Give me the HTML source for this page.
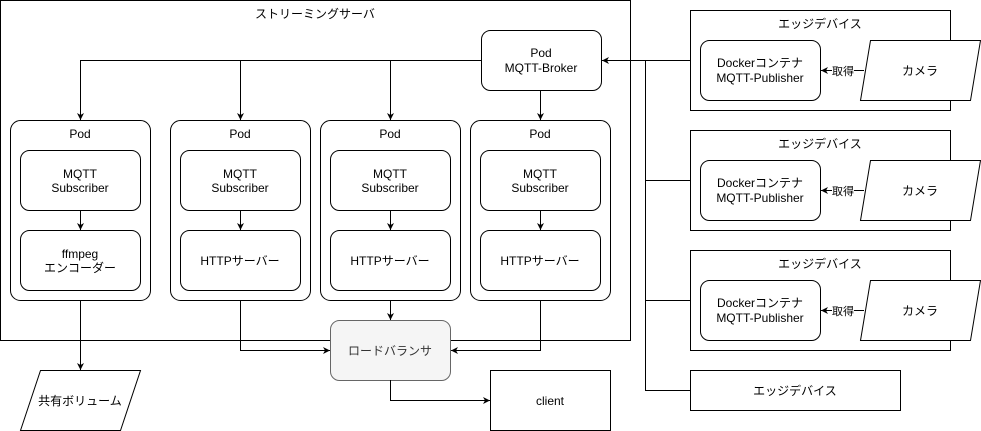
<!DOCTYPE html>
<html><head><meta charset="utf-8"><style>
html,body{margin:0;padding:0;background:#fff;}
svg{display:block;}
text{font-family:"Liberation Sans","Noto Sans CJK JP",sans-serif;font-size:12px;fill:#000;}
</style></head><body>
<svg width="981" height="431" viewBox="0 0 981 431" xmlns="http://www.w3.org/2000/svg">
<defs>
<marker id="a" markerWidth="8" markerHeight="8" refX="7" refY="4" orient="auto" markerUnits="userSpaceOnUse">
<path d="M0,0.5 L7,4 L0,7.5 L2,4 Z" fill="#000"/>
</marker>
</defs>
<g fill="none" stroke="#000" stroke-width="1">
<!-- server -->
<rect x="0.5" y="0.5" width="630" height="340"/>
<rect x="481.5" y="30.5" width="120" height="60" rx="9" fill="#fff"/>
<!-- pods -->
<rect x="10.5" y="120.5" width="140" height="180" rx="10"/>
<rect x="170.5" y="120.5" width="140" height="180" rx="10"/>
<rect x="320.5" y="120.5" width="140" height="180" rx="10"/>
<rect x="470.5" y="120.5" width="140" height="180" rx="10"/>
<rect x="20.5" y="150.5" width="120" height="60" rx="9"/>
<rect x="20.5" y="230.5" width="120" height="60" rx="9"/>
<rect x="180.5" y="150.5" width="120" height="60" rx="9"/>
<rect x="180.5" y="230.5" width="120" height="60" rx="9"/>
<rect x="330.5" y="150.5" width="120" height="60" rx="9"/>
<rect x="330.5" y="230.5" width="120" height="60" rx="9"/>
<rect x="480.5" y="150.5" width="120" height="60" rx="9"/>
<rect x="480.5" y="230.5" width="120" height="60" rx="9"/>
<!-- LB -->
<rect x="330.5" y="320.5" width="120" height="60" rx="9" fill="#f5f5f5" stroke="#666"/>
<rect x="490.5" y="370.5" width="120" height="60"/>
<path d="M40.5,370.5 L140.5,370.5 L120.5,430.5 L20.5,430.5 Z"/>
<!-- broker lines -->
<path d="M481,60.5 H80.5 V120" marker-end="url(#a)"/>
<path d="M240.5,60.5 V120" marker-end="url(#a)"/>
<path d="M390.5,60.5 V120" marker-end="url(#a)"/>
<path d="M540.5,90 V120" marker-end="url(#a)"/>
<path d="M80.5,210 V230" marker-end="url(#a)"/>
<path d="M240.5,210 V230" marker-end="url(#a)"/>
<path d="M390.5,210 V230" marker-end="url(#a)"/>
<path d="M540.5,210 V230" marker-end="url(#a)"/>
<path d="M80.5,300 V370" marker-end="url(#a)"/>
<path d="M240.5,300 V350.5 H330" marker-end="url(#a)"/>
<path d="M390.5,300 V320" marker-end="url(#a)"/>
<path d="M540.5,300 V350.5 H451" marker-end="url(#a)"/>
<path d="M390.5,380 V400.5 H490" marker-end="url(#a)"/>
<!-- edge -->
<rect x="690.5" y="10.5" width="260" height="100"/>
<rect x="690.5" y="130.5" width="260" height="100"/>
<rect x="690.5" y="250.5" width="260" height="100"/>
<rect x="690.5" y="370.5" width="210" height="40"/>
<rect x="700.5" y="40.5" width="120" height="60" rx="9"/>
<rect x="700.5" y="160.5" width="120" height="60" rx="9"/>
<rect x="700.5" y="280.5" width="120" height="60" rx="9"/>
<path d="M870.5,40.5 L980.5,40.5 L970.5,100.5 L860.5,100.5 Z" fill="#fff"/>
<path d="M870.5,160.5 L980.5,160.5 L970.5,220.5 L860.5,220.5 Z" fill="#fff"/>
<path d="M870.5,280.5 L980.5,280.5 L970.5,340.5 L860.5,340.5 Z" fill="#fff"/>
<path d="M864,70.5 H821" marker-end="url(#a)"/>
<path d="M864,190.5 H821" marker-end="url(#a)"/>
<path d="M864,310.5 H821" marker-end="url(#a)"/>
<path d="M690,60.5 H602" marker-end="url(#a)"/>
<path d="M645.5,60.5 V390.5 H690"/>
<path d="M645.5,180.5 H690"/>
<path d="M645.5,300.5 H690"/>
</g>
<g fill="#fff"><rect x="832" y="63" width="22" height="15"/><rect x="832" y="183" width="22" height="15"/><rect x="832" y="303" width="22" height="15"/></g>
<g text-anchor="middle">
<text x="315" y="18">ストリーミングサーバ</text>
<text x="541" y="57">Pod</text><text x="541" y="72">MQTT-Broker</text>
<text x="80" y="138">Pod</text><text x="240" y="138">Pod</text><text x="390" y="138">Pod</text><text x="540" y="138">Pod</text>
<text x="80" y="178">MQTT</text><text x="80" y="192">Subscriber</text>
<text x="240" y="178">MQTT</text><text x="240" y="192">Subscriber</text>
<text x="390" y="178">MQTT</text><text x="390" y="192">Subscriber</text>
<text x="540" y="178">MQTT</text><text x="540" y="192">Subscriber</text>
<text x="80" y="258">ffmpeg</text><text x="80" y="272">エンコーダー</text>
<text x="240" y="265">HTTPサーバー</text>
<text x="390" y="265">HTTPサーバー</text>
<text x="540" y="265">HTTPサーバー</text>
<text x="390" y="355" fill="#333" style="fill:#333">ロードバランサ</text>
<text x="550" y="405">client</text>
<text x="80" y="405">共有ボリューム</text>
<text x="820" y="28">エッジデバイス</text>
<text x="820" y="148">エッジデバイス</text>
<text x="820" y="268">エッジデバイス</text>
<text x="795" y="395">エッジデバイス</text>
<text x="760" y="67">Dockerコンテナ</text><text x="760" y="82">MQTT-Publisher</text>
<text x="760" y="187">Dockerコンテナ</text><text x="760" y="202">MQTT-Publisher</text>
<text x="760" y="307">Dockerコンテナ</text><text x="760" y="322">MQTT-Publisher</text>
<text x="920" y="75">カメラ</text><text x="920" y="195">カメラ</text><text x="920" y="315">カメラ</text>
<text x="843" y="75" style="font-size:11px">取得</text>
<text x="843" y="195" style="font-size:11px">取得</text>
<text x="843" y="315" style="font-size:11px">取得</text>
</g>
</svg>
</body></html>
